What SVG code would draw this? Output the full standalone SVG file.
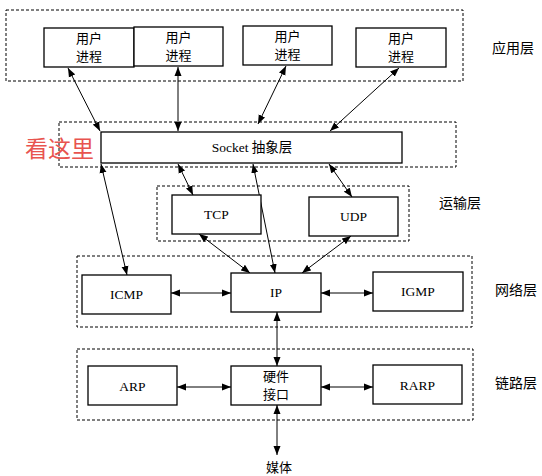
<svg xmlns="http://www.w3.org/2000/svg" width="542" height="476" viewBox="0 0 542 476">
<style>
.layer{fill:none;stroke:#000;stroke-width:1;stroke-dasharray:3 2}
.box{fill:#fff;stroke:#000;stroke-width:1.3}
.cn{font-family:"Noto Sans CJK SC","Liberation Sans",sans-serif;font-size:13px;fill:#000;text-anchor:middle}
.en{font-family:"Liberation Serif","Noto Sans CJK SC",serif;font-size:13.5px;fill:#000;text-anchor:middle}
.lbl{font-family:"Noto Sans CJK SC",sans-serif;font-size:14px;fill:#000}
.conn line{stroke:#000;stroke-width:1;marker-start:url(#ah);marker-end:url(#ah)}
</style>
<defs>
<marker id="ah" markerUnits="userSpaceOnUse" markerWidth="9" markerHeight="8" refX="9" refY="4" orient="auto-start-reverse">
<path d="M0,0.5 L9,4 L0,7.5 z" fill="#000"/>
</marker>
</defs>
<rect width="542" height="476" fill="#fff"/>
<g id="layers">
<rect class="layer" x="6" y="10" width="457" height="71"/>
<rect class="layer" x="59" y="122" width="397" height="45"/>
<rect class="layer" x="157" y="186" width="252" height="55"/>
<rect class="layer" x="77" y="256" width="395" height="71"/>
<rect class="layer" x="77" y="349" width="396" height="71"/>
</g>
<g id="labels">
<text class="lbl" x="492" y="53">应用层</text>
<text class="lbl" x="439" y="208">运输层</text>
<text class="lbl" x="495" y="295">网络层</text>
<text class="lbl" x="495" y="388">链路层</text>
<text x="25" y="157" style="font-family:'Noto Sans CJK SC',sans-serif;font-size:23px;fill:#e8544f">看这里</text>
</g>
<g class="conn" id="connectors">
<line x1="68" y1="68" x2="100" y2="131"/>
<line x1="178" y1="67" x2="178" y2="131"/>
<line x1="286" y1="66" x2="258" y2="124"/>
<line x1="399" y1="68" x2="330" y2="131"/>
<line x1="178" y1="164" x2="193" y2="195"/>
<line x1="329" y1="164" x2="352" y2="197"/>
<line x1="101" y1="164" x2="127" y2="275"/>
<line x1="253" y1="164" x2="275" y2="273"/>
<line x1="199" y1="234" x2="250" y2="273"/>
<line x1="351" y1="236" x2="302" y2="273"/>
<line x1="171" y1="293" x2="231" y2="293"/>
<line x1="321" y1="293" x2="373" y2="293"/>
<line x1="277" y1="312" x2="277" y2="366"/>
<line x1="177" y1="387" x2="231" y2="387"/>
<line x1="321" y1="387" x2="373" y2="387"/>
<line x1="277" y1="405" x2="277" y2="455"/>
</g>
<g id="proc1"><rect class="box" x="44" y="28" width="90" height="39"/><text class="cn" x="89" y="43">用户</text><text class="cn" x="89" y="61">进程</text></g>
<g id="proc2"><rect class="box" x="134" y="27" width="89" height="39"/><text class="cn" x="178.5" y="42">用户</text><text class="cn" x="178.5" y="60">进程</text></g>
<g id="proc3"><rect class="box" x="243" y="26" width="89" height="39"/><text class="cn" x="287.5" y="41">用户</text><text class="cn" x="287.5" y="59">进程</text></g>
<g id="proc4"><rect class="box" x="356" y="28" width="90" height="39"/><text class="cn" x="401" y="43">用户</text><text class="cn" x="401" y="61">进程</text></g>
<g id="socket"><rect class="box" x="101" y="132" width="301" height="31"/><text class="en" x="252" y="152">Socket <tspan style="font-family:'Noto Sans CJK SC',sans-serif">抽象层</tspan></text></g>
<g id="tcp"><rect class="box" x="172" y="195" width="89" height="39"/><text class="en" x="216.5" y="219">TCP</text></g>
<g id="udp"><rect class="box" x="309" y="197" width="89" height="39"/><text class="en" x="353.5" y="221">UDP</text></g>
<g id="icmp"><rect class="box" x="82" y="275" width="89" height="39"/><text class="en" x="126.5" y="299">ICMP</text></g>
<g id="ip"><rect class="box" x="231" y="273" width="90" height="39"/><text class="en" x="276" y="297">IP</text></g>
<g id="igmp"><rect class="box" x="373" y="272" width="90" height="39"/><text class="en" x="418" y="296">IGMP</text></g>
<g id="arp"><rect class="box" x="88" y="366" width="89" height="39"/><text class="en" x="132.5" y="391">ARP</text></g>
<g id="hw"><rect class="box" x="231" y="366" width="90" height="39"/><text class="cn" x="276" y="381">硬件</text><text class="cn" x="276" y="399">接口</text></g>
<g id="rarp"><rect class="box" x="373" y="365" width="89" height="39"/><text class="en" x="417.5" y="390">RARP</text></g>
<g id="media"><text class="cn" x="279" y="472">媒体</text></g>
</svg>
